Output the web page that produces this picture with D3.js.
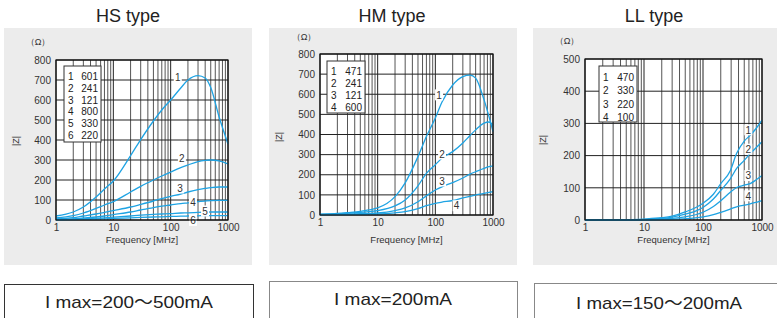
<!DOCTYPE html>
<html><head><meta charset="utf-8">
<script src="https://cdn.jsdelivr.net/npm/d3@7/dist/d3.min.js"></script>
<style>
html,body{margin:0;padding:0;background:#fff;}
svg{display:block;font-family:"Liberation Sans",Arial,Helvetica,sans-serif;}
</style></head>
<body>
<svg id="c" width="777" height="318"></svg>
<script>
// ---------- data ----------
const titles = ["HS type", "HM type", "LL type"];
const currentPre = ["I max=200", "I max=200mA", "I max=150"];
const currentTilde = ["～", "", "～"];
const currentPost = ["500mA", "", "200mA"];
const xTickLabels = [1, 10, 100, 1000];

const hsFreq = [1, 2, 3, 5, 7, 10, 20, 30, 50, 70, 100, 150, 200, 300, 400, 500, 700, 1000];
const hs1 = [20, 40, 65, 115, 155, 195, 322, 402, 495, 550, 600, 660, 700, 722, 710, 662, 515, 380];
const hs2 = [10, 22, 35, 58, 75, 92, 140, 168, 200, 220, 240, 262, 275, 292, 298, 300, 296, 280];
const hs3 = [5, 12, 20, 30, 38, 47, 65, 78, 95, 107, 118, 130, 140, 152, 158, 162, 165, 165];
const hs4 = [3, 6, 10, 15, 20, 27, 40, 50, 62, 69, 75, 82, 86, 92, 95, 97, 98, 98];
const hs5 = [2, 4, 6, 9, 11, 14, 20, 24, 28, 30, 32, 35, 36, 38, 39, 40, 40, 40];
const hs6 = [1, 2, 4, 5, 6, 8, 11, 13, 15, 16, 18, 19, 20, 21, 22, 22, 22, 22];
const hsCodes = ["601", "241", "121", "800", "330", "220"];
const hsYTicks = [0, 100, 200, 300, 400, 500, 600, 700, 800];
const hsLabelPos = [[133, 715], [157, 310], [145, 160], [245, 90], [398, 45], [245, -2]];

const hmFreq = [1, 2, 3, 5, 7, 10, 20, 30, 50, 70, 100, 130, 200, 300, 400, 500, 700, 850, 1000];
const hm1 = [4, 8, 12, 18, 25, 35, 91, 160, 290, 390, 482, 560, 646, 688, 695, 680, 572, 490, 414];
const hm2 = [3, 6, 9, 13, 17, 22, 45, 75, 145, 207, 250, 282, 315, 358, 395, 423, 457, 462, 445];
const hm3 = [2, 4, 5, 7, 8, 10, 22, 35, 66, 95, 124, 140, 161, 184, 203, 215, 232, 240, 244];
const hm4 = [1, 2, 2, 3, 4, 5, 11, 17, 32, 46, 58, 64, 72, 85, 93, 99, 108, 112, 116];
const hmCodes = ["471", "241", "121", "600"];
const hmYTicks = [0, 100, 200, 300, 400, 500, 600, 700, 800];
const hmLabelPos = [[116, 597], [131, 303], [131, 169], [234, 46]];

const llFreq = [1, 2, 5, 10, 20, 30, 50, 100, 150, 200, 290, 372, 500, 630, 800, 1000];
const ll1 = [0, 0, 1, 3, 7, 12, 25, 52, 80, 113, 153, 207, 245, 263, 285, 310];
const ll2 = [0, 0, 1, 2, 5, 9, 18, 39, 65, 92, 128, 160, 185, 206, 225, 243];
const ll3 = [0, 0, 0, 1, 3, 5, 10, 24, 42, 60, 86, 101, 108, 113, 125, 138];
const ll4 = [0, 0, 0, 0, 1, 2, 4, 10, 17, 24, 34, 41, 46, 50, 55, 60];
const llCodes = ["470", "330", "220", "100"];
const llYTicks = [0, 100, 200, 300, 400, 500];
const llLabelPos = [[586, 280], [586, 220], [586, 138], [586, 75]];

// ---------- layout ----------
const panels = [
  {bg:[4,28,248,237], plot:[56,60,228,220], ymax:800, freq:hsFreq, series:[hs1,hs2,hs3,hs4,hs5,hs6], codes:hsCodes, yTicks:hsYTicks, labelPos:hsLabelPos,
   legend:{x:64,y:66,w:37,h:76,row:11.7}, omega:[38,45], zlab:[19,141], box:[4,284,249,40], boxStroke:"#333", boxText:[129,308], boxW:168},
  {bg:[269,28,248,237], plot:[320,54,493,215], ymax:800, freq:hmFreq, series:[hm1,hm2,hm3,hm4], codes:hmCodes, yTicks:hmYTicks, labelPos:hmLabelPos,
   legend:{x:327,y:61,w:38,h:52,row:11.8}, omega:[304,40], zlab:[282,137], box:[269,281,248,44], boxStroke:"#888", boxText:[393,305], boxW:118},
  {bg:[533,28,250,237], plot:[585,59,762,220], ymax:500, freq:llFreq, series:[ll1,ll2,ll3,ll4], codes:llCodes, yTicks:llYTicks, labelPos:llLabelPos,
   legend:{x:599,y:66,w:38,h:56,row:13.3}, omega:[567,44], zlab:[546,140], box:[534,283,250,44], boxStroke:"#888", boxText:[659,309], boxW:166}
];
const titleX = [128, 392, 654];

const svg = d3.select("#c");
const lineColor = "#1ea3e3";

panels.forEach((p, i) => {
  const g = svg.append("g");
  g.append("rect").attr("x", p.bg[0]).attr("y", p.bg[1]).attr("width", p.bg[2]).attr("height", p.bg[3]).attr("fill", "#ececec");
  g.append("text").attr("x", titleX[i]).attr("y", 22).attr("text-anchor", "middle")
    .attr("font-size", 18).attr("fill", "#222").text(titles[i]);

  const [x0, y0, x1, y1] = p.plot;
  const x = d3.scaleLog().domain([1, 1000]).range([x0, x1]);
  const y = d3.scaleLinear().domain([0, p.ymax]).range([y1, y0]);

  g.append("rect").attr("x", x0).attr("y", y0).attr("width", x1 - x0).attr("height", y1 - y0).attr("fill", "#fff");

  // vertical grid
  const vlines = [];
  for (let k = 1; k <= 100; k *= 10) for (let m = 1; m <= 9; m++) vlines.push(m * k);
  vlines.push(1000);
  g.selectAll(".vg").data(vlines).enter().append("line")
    .attr("x1", d => x(d)).attr("x2", d => x(d)).attr("y1", y0).attr("y2", y1)
    .attr("stroke", d => (Math.log10(d) % 1 === 0) ? "#222" : "#555")
    .attr("stroke-width", 1);
  // horizontal grid
  g.selectAll(".hg").data(p.yTicks).enter().append("line")
    .attr("x1", x0).attr("x2", x1).attr("y1", d => y(d)).attr("y2", d => y(d))
    .attr("stroke", "#222").attr("stroke-width", 1);

  // axes
  const ya = d3.axisLeft(y).tickValues(p.yTicks).tickSize(0).tickPadding(5).tickFormat(d3.format("d"));
  const yg = g.append("g").attr("transform", `translate(${x0},0)`).call(ya);
  yg.select(".domain").remove();
  yg.selectAll("text").attr("font-size", 10).attr("fill", "#333").attr("font-family", "Liberation Sans, Arial, sans-serif");
  const xa = d3.axisBottom(x).tickValues(xTickLabels).tickSize(0).tickPadding(4).tickFormat(d3.format("d"));
  const xg = g.append("g").attr("transform", `translate(0,${y1})`).call(xa);
  xg.select(".domain").remove();
  xg.selectAll("text").attr("font-size", 10).attr("fill", "#333").attr("font-family", "Liberation Sans, Arial, sans-serif");

  g.append("text").attr("x", (x0 + x1) / 2).attr("y", 243).attr("text-anchor", "middle")
    .attr("font-size", 9.5).attr("fill", "#333").text("Frequency [MHz]");
  g.append("text").attr("x", p.omega[0]).attr("y", p.omega[1]).attr("text-anchor", "middle")
    .attr("font-size", 9).attr("fill", "#333").text("（Ω）");
  g.append("text").attr("transform", `translate(${p.zlab[0]},${p.zlab[1]}) rotate(-90)`).attr("text-anchor", "middle")
    .attr("font-size", 9).attr("fill", "#333").text("|Z|");

  // curves
  const line = d3.line().x(d => x(d[0])).y(d => y(d[1])).curve(d3.curveMonotoneX);
  const cg = g.append("g");
  p.series.forEach(vals => {
    const pts = p.freq.map((f, j) => [f, vals[j]]);
    cg.append("path").attr("d", line(pts)).attr("fill", "none")
      .attr("stroke", lineColor).attr("stroke-width", 1.3);
  });

  // curve labels
  p.labelPos.forEach((lp, j) => {
    const lx = x(lp[0]), ly = y(lp[1]);
    g.append("rect").attr("x", lx - 4).attr("y", ly - 5.5).attr("width", 8).attr("height", 11).attr("fill", "#fff");
    g.append("text").attr("x", lx).attr("y", ly + 3.7).attr("text-anchor", "middle")
      .attr("font-size", 10).attr("fill", "#333").text(j + 1);
  });

  // frame
  g.append("rect").attr("x", x0).attr("y", y0).attr("width", x1 - x0).attr("height", y1 - y0)
    .attr("fill", "none").attr("stroke", "#111").attr("stroke-width", 1.2);

  // legend
  const L = p.legend;
  g.append("rect").attr("x", L.x).attr("y", L.y).attr("width", L.w).attr("height", L.h)
    .attr("fill", "#fff").attr("stroke", "#333").attr("stroke-width", 1);
  p.codes.forEach((c, j) => {
    const ty = L.y + 5 + L.row * (j + 0.5) + 3.5;
    g.append("text").attr("x", L.x + 4).attr("y", ty).attr("font-size", 10).attr("fill", "#222").text(j + 1);
    g.append("text").attr("x", L.x + L.w - 3).attr("y", ty).attr("text-anchor", "end").attr("font-size", 10).attr("fill", "#222").text(c);
  });

  // current box
  g.append("rect").attr("x", p.box[0] + 0.5).attr("y", p.box[1] + 0.5).attr("width", p.box[2]).attr("height", p.box[3])
    .attr("fill", "#fff").attr("stroke", p.boxStroke).attr("stroke-width", 1);
  const bt = g.append("text").attr("x", p.boxText[0]).attr("y", p.boxText[1]).attr("text-anchor", "middle")
    .attr("font-size", 17).attr("fill", "#222")
    .attr("textLength", p.boxW).attr("lengthAdjust", "spacingAndGlyphs");
  bt.append("tspan").text(currentPre[i]);
  if (currentTilde[i]) {
    bt.append("tspan").attr("font-family", "Noto Sans CJK JP").text(currentTilde[i]);
    bt.append("tspan").text(currentPost[i]);
  }
});
</script>
</body></html>
